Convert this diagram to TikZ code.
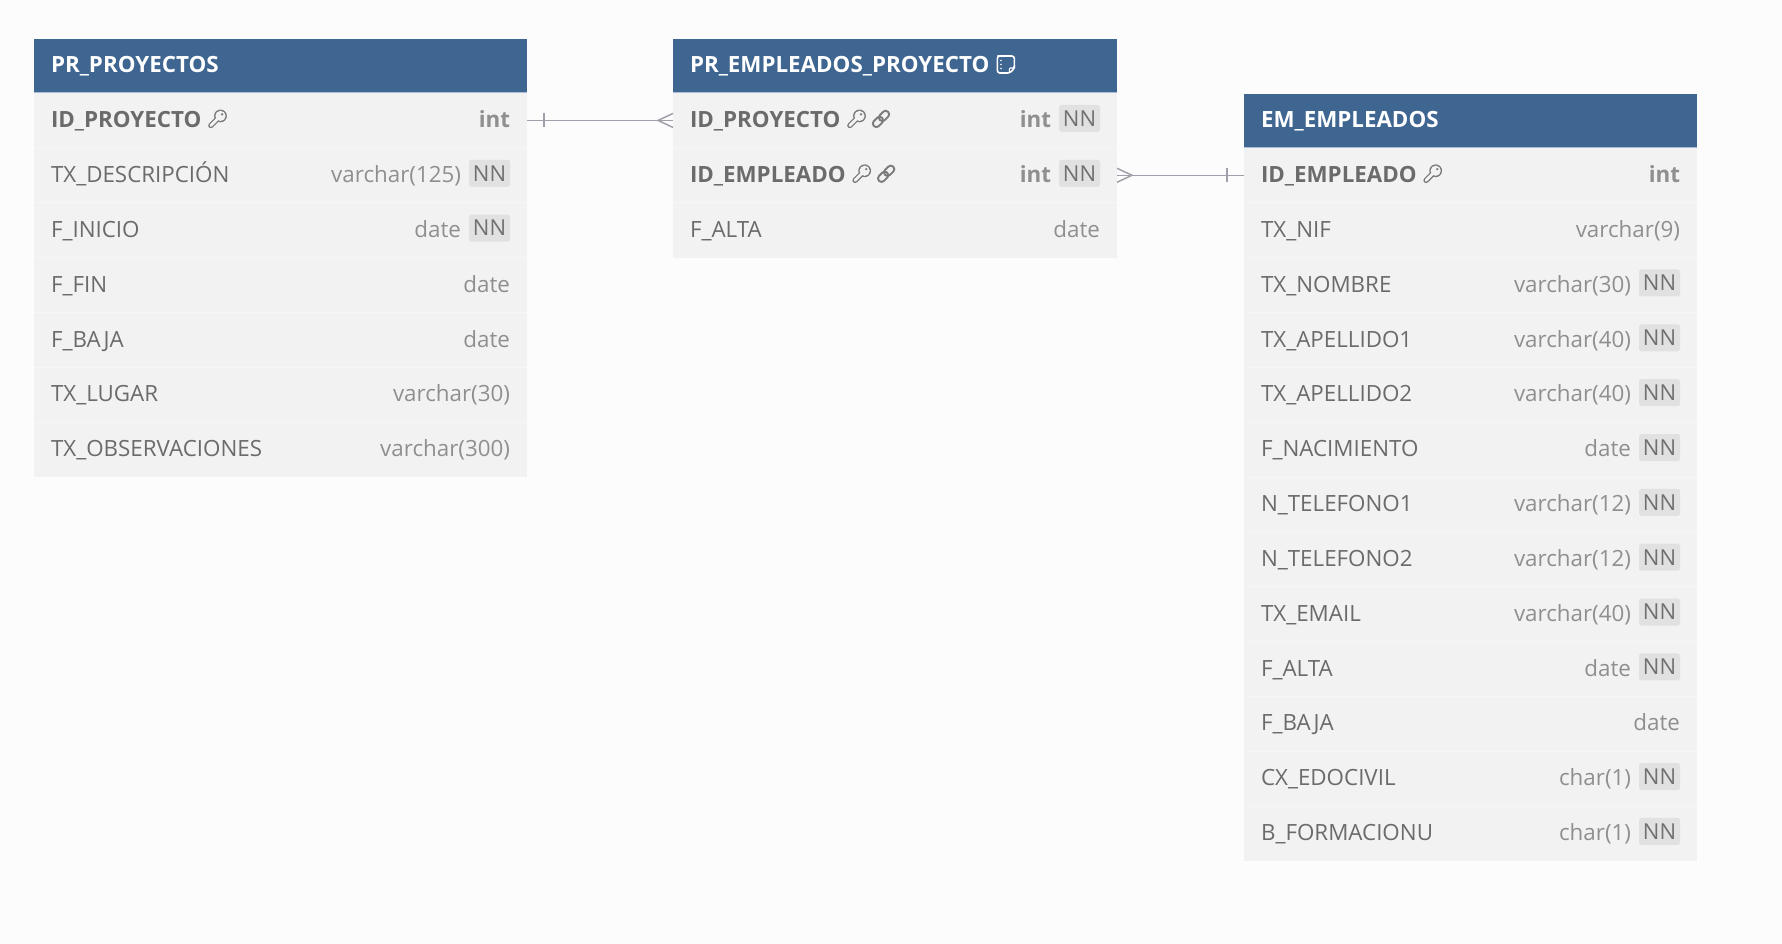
\documentclass[tikz,border=0pt]{standalone}
\usepackage{fontspec}
\setmainfont{Open Sans}
\usetikzlibrary{calc}
\definecolor{bgc}{HTML}{FCFCFC}
\definecolor{headc}{HTML}{3F6591}
\definecolor{headl}{HTML}{A9BDD6}
\definecolor{rowc}{HTML}{F2F2F2}
\definecolor{sepc}{HTML}{F6F6F6}
\definecolor{namec}{HTML}{6B6B6B}
\definecolor{typec}{HTML}{8F8F8F}
\definecolor{badgec}{HTML}{E1E1E1}
\definecolor{nntc}{HTML}{707070}
\definecolor{linkc}{HTML}{A0A0AA}
\definecolor{iconc}{HTML}{7A7A7A}
\newcommand\bodyfont{\fontsize{22.35}{24}\selectfont}
\tikzset{
  rowbox/.style={anchor=north west,fill=rowc,inner sep=0pt,outer sep=0pt,minimum height=54.85pt},
  headbox/.style={anchor=north west,fill=headc,inner sep=0pt,outer sep=0pt,minimum height=54pt},
  txt/.style={inner sep=0pt,outer sep=0pt,font=\bodyfont},
  fieldtxt/.style={txt,anchor=base west,text=namec},
  typetxt/.style={txt,anchor=base east,text=typec},
  nnbox/.style={fill=badgec,rounded corners=2.5pt,inner sep=0pt,outer sep=0pt,minimum width=41pt,minimum height=27pt,text=nntc,font=\fontsize{22}{24}\selectfont},
  relline/.style={draw=linkc,line width=1.5pt},
  keyicon/.pic={
    \draw[iconc,line width=5.4pt,line cap=round] (-6.6,6.6)--(2,-2);
    \fill[iconc] (3,-3) circle (6.4);
    \draw[rowc,line width=2.8pt,line cap=round] (-6.6,6.6)--(2,-2);
    \fill[rowc] (3,-3) circle (5.1);
    \fill[iconc] (4.6,-4.6) circle (1.3);
  },
  linkicon/.pic={
    \begin{scope}[rotate=45]
      \draw[iconc,line width=1.9pt,rounded corners=3.3pt] (-10,-3.5) rectangle (1.5,3.5);
      \draw[iconc,line width=1.9pt,rounded corners=3.3pt] (-1.5,-3.5) rectangle (10,3.5);
    \end{scope}
  },
  noteicon/.pic={
    \draw[white,line width=1.6pt,line join=round,rounded corners=2.5pt] (-8.5,-8.5) -- (8.5,-8.5) -- (8.5,4);
    \draw[white,line width=1.6pt,line join=round,rounded corners=2.5pt] (8.5,3) -- (8.5,4) -- (4,8.5) -- (-8.5,8.5) -- (-8.5,-8.5) -- (0,-8.5);
    \draw[white,line width=1.2pt,rounded corners=1pt] (8.5,3.5) -- (3.5,3.5) -- (3.5,8.5);
    \foreach \d in {-4,0,4} \fill[white] (-4.8,\d) circle (0.9);
  }
}
% \dbhead{name}{x}{y}{width}{text}
\newcommand\dbhead[5]{%
  \node[headbox,minimum width=#4pt] (#1) at (#2,#3) {};
  \draw[headl,line width=1pt] (#1.south west) -- (#1.south east);
  \node[txt,anchor=base west,text=white,font=\bodyfont\bfseries] (#1-n) at ($(#1.west)+(17,7)$) {#5};
}
% \dbrow{name}{index}{field}{type}{NN 0/1}{font extra}{icons}
\newcommand\dbrow[7]{%
  \pgfmathsetmacro\rowy{\taby+54+#2*54.85}
  \node[rowbox,minimum width=\tabw pt] (#1) at (\tabx,\rowy) {};
  \ifnum#2>0 \draw[sepc,line width=0.8pt] (#1.north west) -- (#1.north east);\fi
  \node[fieldtxt,font=\bodyfont#6] (#1-n) at ($(#1.west)+(17,7.2)$) {#3};
  #7
  \ifnum#5=1
    \node[nnbox,anchor=east] (#1-b) at ($(#1.east)+(-17,-2)$) {NN};
    \node[typetxt,font=\bodyfont#6] (#1-t) at ($(#1.east)+(-66,7.2)$) {#4};
  \else
    \node[typetxt,font=\bodyfont#6] (#1-t) at ($(#1.east)+(-17,7.2)$) {#4};
  \fi
}
\begin{document}
\begin{tikzpicture}[x=1pt,y=-1pt]
\fill[bgc] (0,0) rectangle (1782,944);
\useasboundingbox (0,0) rectangle (1782,944);

% PR_PROYECTOS
\def\tabx{34}\def\taby{39}\def\tabw{493}
\dbhead{pr}{34}{39}{493}{PR\_PROYECTOS}
\dbrow{pr1}{0}{ID\_PROYECTO}{int}{0}{\bfseries}{\pic at ($(pr1-n.base east)+(16,-8.7)$) {keyicon};}
\dbrow{pr2}{1}{TX\_DESCRIPCIÓN}{varchar(125)}{1}{}{}
\dbrow{pr3}{2}{F\_INICIO}{date}{1}{}{}
\dbrow{pr4}{3}{F\_FIN}{date}{0}{}{}
\dbrow{pr5}{4}{F\_BAJA}{date}{0}{}{}
\dbrow{pr6}{5}{TX\_LUGAR}{varchar(30)}{0}{}{}
\dbrow{pr7}{6}{TX\_OBSERVACIONES}{varchar(300)}{0}{}{}

% PR_EMPLEADOS_PROYECTO
\def\tabx{673}\def\taby{39}\def\tabw{444}
\dbhead{ep}{673}{39}{444}{PR\_EMPLEADOS\_PROYECTO}
\pic at ($(ep-n.base east)+(16.5,-8.5)$) {noteicon};
\dbrow{ep1}{0}{ID\_PROYECTO}{int}{1}{\bfseries}{\pic at ($(ep1-n.base east)+(16,-8.7)$) {keyicon}; \pic at ($(ep1-n.base east)+(40.5,-8.7)$) {linkicon};}
\dbrow{ep2}{1}{ID\_EMPLEADO}{int}{1}{\bfseries}{\pic at ($(ep2-n.base east)+(16,-8.7)$) {keyicon}; \pic at ($(ep2-n.base east)+(40.5,-8.7)$) {linkicon};}
\dbrow{ep3}{2}{F\_ALTA}{date}{0}{}{}

% EM_EMPLEADOS
\def\tabx{1244}\def\taby{93.85}\def\tabw{453}
\dbhead{em}{1244}{93.85}{453}{EM\_EMPLEADOS}
\dbrow{em1}{0}{ID\_EMPLEADO}{int}{0}{\bfseries}{\pic at ($(em1-n.base east)+(16,-8.7)$) {keyicon};}
\dbrow{em2}{1}{TX\_NIF}{varchar(9)}{0}{}{}
\dbrow{em3}{2}{TX\_NOMBRE}{varchar(30)}{1}{}{}
\dbrow{em4}{3}{TX\_APELLIDO1}{varchar(40)}{1}{}{}
\dbrow{em5}{4}{TX\_APELLIDO2}{varchar(40)}{1}{}{}
\dbrow{em6}{5}{F\_NACIMIENTO}{date}{1}{}{}
\dbrow{em7}{6}{N\_TELEFONO1}{varchar(12)}{1}{}{}
\dbrow{em8}{7}{N\_TELEFONO2}{varchar(12)}{1}{}{}
\dbrow{em9}{8}{TX\_EMAIL}{varchar(40)}{1}{}{}
\dbrow{em10}{9}{F\_ALTA}{date}{1}{}{}
\dbrow{em11}{10}{F\_BAJA}{date}{0}{}{}
\dbrow{em12}{11}{CX\_EDOCIVIL}{char(1)}{1}{}{}
\dbrow{em13}{12}{B\_FORMACIONU}{char(1)}{1}{}{}

% relationships
\draw[relline] (pr1.east) -- (ep1.west);
\draw[relline] ($(pr1.east)+(17,-7)$) -- ($(pr1.east)+(17,7)$);
\draw[relline] ($(ep1.west)+(0,-7)$) -- ($(ep1.west)+(-15,0)$) -- ($(ep1.west)+(0,7)$);
\draw[relline] (ep2.east) -- (em1.west);
\draw[relline] ($(ep2.east)+(0,-7)$) -- ($(ep2.east)+(15,0)$) -- ($(ep2.east)+(0,7)$);
\draw[relline] ($(em1.west)+(-17,-7)$) -- ($(em1.west)+(-17,7)$);
\end{tikzpicture}
\end{document}
